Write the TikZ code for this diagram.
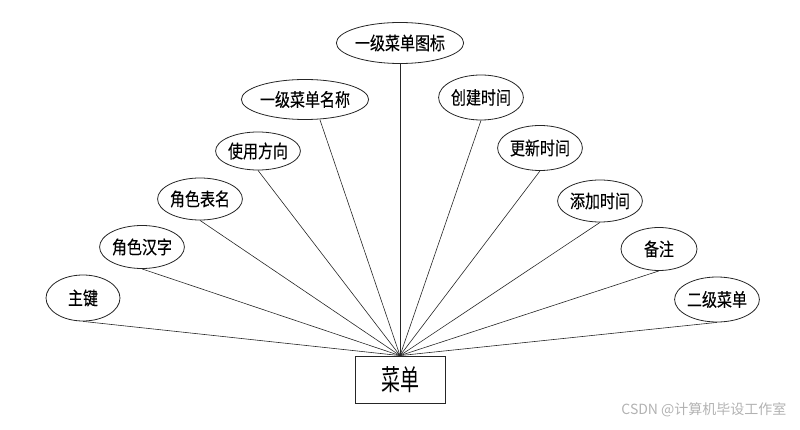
\documentclass[tikz,border=0pt]{standalone}
\usepackage{fontspec}
\setmainfont{Noto Sans CJK SC}
\newfontfamily\cjk[FakeBold=0.25]{Noto Sans CJK SC}
\newfontfamily\cjklight{Noto Sans CJK SC}
\usetikzlibrary{shapes.geometric}
\newcommand{\atxt}[1]{\scalebox{1}[1.22]{#1}}
\newcommand{\etxt}[1]{\scalebox{1}[1.5]{#1}}
\tikzset{
  attr/.style={ellipse, draw=black!85, line width=0.8pt, inner sep=0pt, font=\cjk\fontsize{15}{15}\selectfont},
  entity/.style={rectangle, draw=black!85, line width=0.8pt, inner sep=0pt, minimum width=90pt, minimum height=47pt, font=\cjklight\fontsize{19}{19}\selectfont},
  link/.style={draw=black!85, line width=0.6pt}
}
\begin{document}
\begin{tikzpicture}[x=1pt,y=-1pt]
\useasboundingbox (0,0) rectangle (800,430);
\node[entity] (m) at (400,379.5) {\etxt{菜单}};
\node[attr, minimum width=74pt, minimum height=46pt] (a1) at (83,298) {\atxt{主键}};
\node[attr, minimum width=74pt, minimum height=43pt] (a2) at (142,247) {\atxt{角色汉字}};
\node[attr, minimum width=75pt, minimum height=42pt] (a3) at (200,199) {\atxt{角色表名}};
\node[attr, minimum width=74pt, minimum height=38pt] (a4) at (258,151) {\atxt{使用方向}};
\node[attr, minimum width=100pt, minimum height=40pt] (a5) at (305,99.5) {\atxt{一级菜单名称}};
\node[attr, minimum width=99pt, minimum height=41pt] (a6) at (400,43) {\atxt{一级菜单图标}};
\node[attr, minimum width=72pt, minimum height=45pt] (a7) at (481,97.5) {\atxt{创建时间}};
\node[attr, minimum width=73pt, minimum height=45pt] (a8) at (540,148) {\atxt{更新时间}};
\node[attr, minimum width=74pt, minimum height=42pt] (a9) at (600,201) {\atxt{添加时间}};
\node[attr, minimum width=76pt, minimum height=43pt] (a10) at (659,249) {\atxt{备注}};
\node[attr, minimum width=75pt, minimum height=45pt] (a11) at (717,299.5) {\atxt{二级菜单}};
\foreach \n in {a1,a2,a3,a4,a6,a7,a8,a9,a10,a11}
  \draw[link] (\n.south) -- (m.north);
\draw[link] ([xshift=15pt]a5.south) -- (m.north);
\node[text=black!30, anchor=east, font=\cjklight\fontsize{14}{14}\selectfont] (wm) at (790,410) {CSDN @计算机毕设工作室};
\end{tikzpicture}
\end{document}
